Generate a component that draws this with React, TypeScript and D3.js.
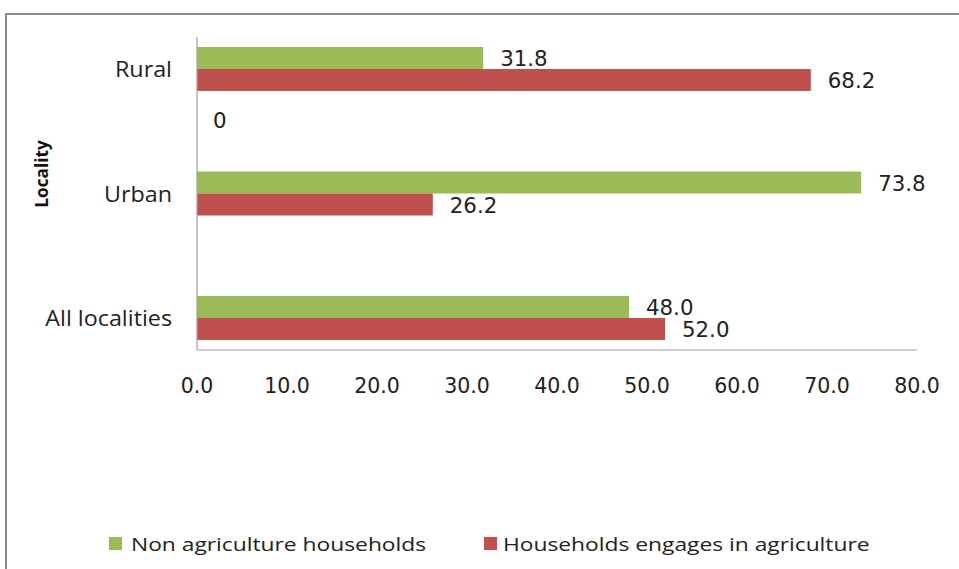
import React from "react";
import * as d3 from "d3";

const categories = ["Rural", "Urban", "All localities"];
const seriesNames = ["Non agriculture households", "Households engages in agriculture"];
const nonAgri = [31.8, 73.8, 48.0];
const agri = [68.2, 26.2, 52.0];
const colors = ["#9BBB59", "#C0504D"];
const xTicks = [0, 10, 20, 30, 40, 50, 60, 70, 80];
const axisTitle = "Locality";
const zeroLabel = "0";

const W = 959;
const H = 569;

function SText({ x, y, sx = 1, anchor = "start", font, size, weight, children }: any) {
  return (
    <text
      transform={`translate(${x},${y}) scale(${sx},1)`}
      textAnchor={anchor}
      fontFamily={font}
      fontSize={size}
      fontWeight={weight}
      fill="#222"
    >
      {children}
    </text>
  );
}

export default function App() {
  const x = d3.scaleLinear().domain([0, 80]).range([197, 917]);
  const y = d3.scalePoint<string>().domain(categories).range([69, 318]);
  const barH = 22;
  const series = [nonAgri, agri];
  const numFont = "'DejaVu Sans', Verdana, sans-serif";
  const txtFont = "'Open Sans', 'DejaVu Sans', sans-serif";

  return (
    <svg width={W} height={H} style={{ position: "absolute", left: 0, top: 0, background: "#fff" }}>
      <path d="M6,569 L6,14 L959,14" fill="none" stroke="#8c8c8c" strokeWidth={2} />
      {series.map((vals, si) =>
        categories.map((c, ci) => {
          const yc = y(c)!;
          const y0 = si === 0 ? yc - barH : yc;
          return (
            <rect key={`${si}-${ci}`} x={x(0)} y={y0} width={x(vals[ci]) - x(0)} height={barH} fill={colors[si]} />
          );
        })
      )}
      {series.map((vals, si) =>
        categories.map((c, ci) => {
          const yc = y(c)!;
          const yb = si === 0 ? yc - 3 : yc + 19;
          return (
            <SText key={`l${si}-${ci}`} x={x(vals[ci]) + 17} y={yb} sx={1.04} font={numFont} size={20.5}>
              {vals[ci].toFixed(1)}
            </SText>
          );
        })
      )}
      <SText x={x(0) + 16} y={128} sx={1.04} font={numFont} size={20.5}>{zeroLabel}</SText>
      <line x1={x(0)} x2={x(0)} y1={37} y2={350} stroke="#a0a0a0" strokeWidth={1.2} />
      <line x1={x(0)} x2={x(80)} y1={350} y2={350} stroke="#a0a0a0" strokeWidth={1.2} />
      {xTicks.map((t) => (
        <SText key={t} x={x(t)} y={393} anchor="middle" font={numFont} size={20.5}>
          {t.toFixed(1)}
        </SText>
      ))}
      {categories.map((c) => (
        <SText key={c} x={172} y={y(c)! + 8} anchor="end" sx={1.11} font={txtFont} size={21}>
          {c}
        </SText>
      ))}
      <text transform="translate(48,174) rotate(-90) scale(0.93,1)" textAnchor="middle" fontFamily={txtFont} fontSize={18.5} fontWeight="bold" fill="#111">
        {axisTitle}
      </text>
      <rect x={109} y={537} width={13} height={13} fill={colors[0]} />
      <SText x={131} y={551} sx={1.2} font={txtFont} size={19}>{seriesNames[0]}</SText>
      <rect x={484} y={537} width={13} height={13} fill={colors[1]} />
      <SText x={503} y={551} sx={1.2} font={txtFont} size={19}>{seriesNames[1]}</SText>
    </svg>
  );
}
